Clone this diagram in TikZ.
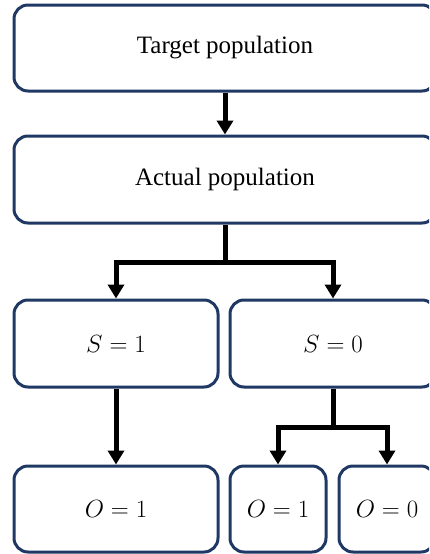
\documentclass[tikz,border=0pt]{standalone}
\usepackage{fontspec}
\setmainfont{Liberation Serif}
\usetikzlibrary{arrows.meta}
\definecolor{navy}{HTML}{1F3864}
\begin{document}
\begin{tikzpicture}[x=1pt,y=-1pt,
  box/.style={draw=navy, line width=3pt, rounded corners=14pt, fill=white,
    inner sep=0pt, font=\fontsize{25}{29}\selectfont},
  arr/.style={line width=5pt, line join=miter, -{Triangle[width=16pt,length=14pt]}},
  seg/.style={line width=5pt, line join=miter}]
\useasboundingbox (0,0) rectangle (429,554);
\clip (0,0) rectangle (429,554);
\node[box, minimum width=422pt, minimum height=86pt] (tp) at (225,48) {Target population};
\node[box, minimum width=422pt, minimum height=87pt] (ap) at (225,179.5) {Actual population};
\node[box, minimum width=204pt, minimum height=87pt] (s1) at (116,343.5) {$S=1$};
\node[box, minimum width=206pt, minimum height=87pt] (s0) at (333,343.5) {$S=0$};
\node[box, minimum width=204pt, minimum height=86pt] (o1l) at (116,509) {$O=1$};
\node[box, minimum width=96pt, minimum height=86pt] (o1m) at (278,509) {$O=1$};
\node[box, minimum width=96pt, minimum height=86pt] (o0) at (387,509) {$O=0$};
\coordinate (j1) at (225,262);
\coordinate (j2) at (333,427);
\draw[arr] (tp.south) -- (ap.north);
\draw[seg] (ap.south) -- (j1);
\draw[arr] (j1) -| (s1.north);
\draw[arr] (j1) -| (s0.north);
\draw[arr] (s1.south) -- (o1l.north);
\draw[seg] (s0.south) -- (j2);
\draw[arr] (j2) -| (o1m.north);
\draw[arr] (j2) -| (o0.north);
\end{tikzpicture}
\end{document}
